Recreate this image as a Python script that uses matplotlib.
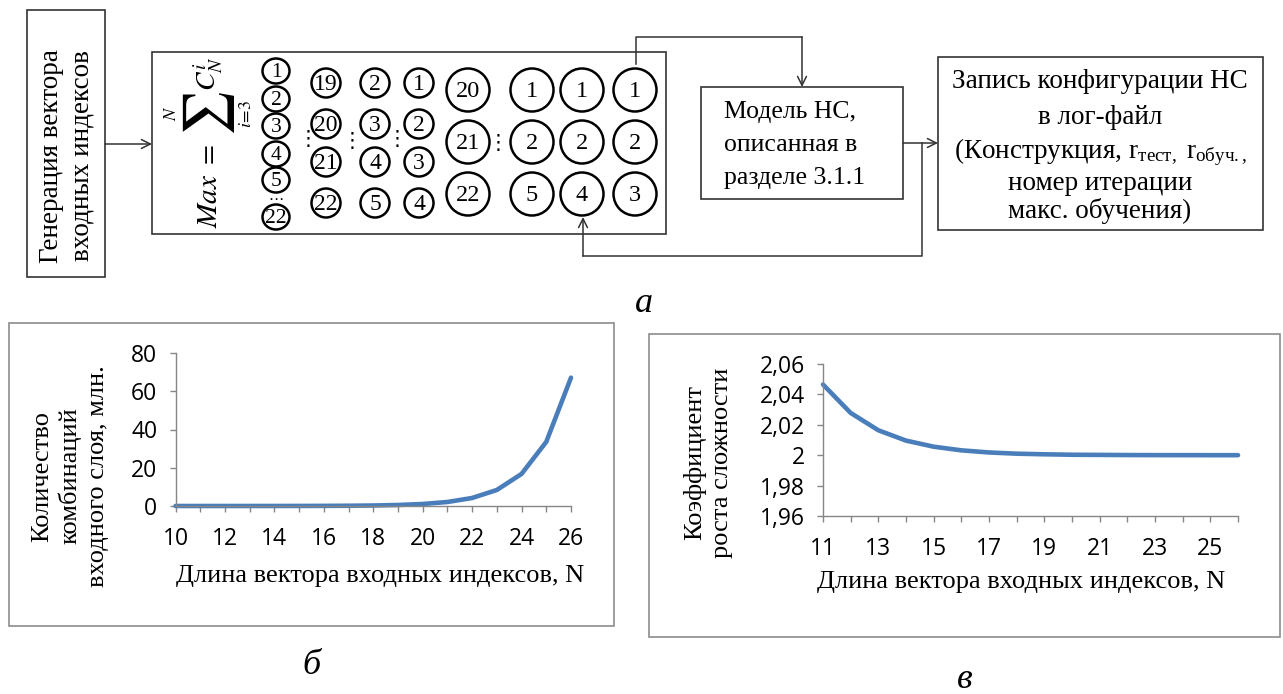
import matplotlib
matplotlib.use("Agg")
import matplotlib.pyplot as plt
from matplotlib.patches import Rectangle, Circle, Ellipse
from matplotlib.ticker import MultipleLocator

# ==========================================
# Data
# ==========================================
N_LEFT = list(range(10, 27))
COMBOS_MLN = [0.00097, 0.00198, 0.00402, 0.0081, 0.0163, 0.0326, 0.0654, 0.131,
              0.262, 0.524, 1.048, 2.097, 4.194, 8.388, 16.78, 33.55, 67.11]
LEFT_XTICKS = [10, 12, 14, 16, 18, 20, 22, 24, 26]
LEFT_YTICKS = [0, 20, 40, 60, 80]

N_RIGHT = list(range(11, 27))
GROWTH = [2.0465, 2.0278, 2.0164, 2.0096, 2.0056, 2.0032, 2.0018, 2.0010,
          2.0006, 2.0003, 2.0002, 2.0001, 2.00005, 2.00003, 2.00001, 2.00001]
RIGHT_XTICKS = [11, 13, 15, 17, 19, 21, 23, 25]
RIGHT_YTICKS = [1.96, 1.98, 2.00, 2.02, 2.04, 2.06]
RIGHT_YLABELS = ["1,96", "1,98", "2", "2,02", "2,04", "2,06"]

# circle labels of the index table
SMALL_COL = ["1", "2", "3", "4", "5", "22"]
MID_COLS = [["19", "20", "21", "22"], ["2", "3", "4", "5"], ["1", "2", "3", "4"]]
BIG_COLS = [["20", "21", "22"], ["1", "2", "5"], ["1", "2", "4"], ["1", "2", "3"]]

W, H = 1283, 694
SERIF = "Liberation Serif"
SANS = "Open Sans"
LINE_BLUE = "#4a7ebb"
AX_GRAY = "#868686"

plt.rcParams["mathtext.rm"] = SERIF
plt.rcParams["mathtext.it"] = SERIF + ":italic"

fig = plt.figure(figsize=(W / 100, H / 100), dpi=100)
bg = fig.add_axes([0, 0, 1, 1])
bg.set_xlim(0, W)
bg.set_ylim(H, 0)
bg.axis("off")


def box(x0, y0, x1, y1, ec="#333333", lw=1.2):
    bg.add_patch(Rectangle((x0, y0), x1 - x0, y1 - y0, fill=False, ec=ec, lw=lw))


def arrow(pts):
    xs = [p[0] for p in pts]
    ys = [p[1] for p in pts]
    bg.plot(xs[:-1], ys[:-1], color="#333333", lw=1.1)
    bg.annotate("", xy=pts[-1], xytext=pts[-2],
                arrowprops=dict(arrowstyle="->", color="#333333", lw=1.1,
                                shrinkA=0, shrinkB=0, mutation_scale=16))


def rtext(x, y, s, size, **kw):
    # rotated math text piece of the formula
    bg.text(x, y, s, rotation=90, ha="center", va="center", fontsize=size,
            math_fontfamily="stix", **kw)


# ---- top diagram ----
box(27, 10, 105, 277)
bg.text(67, 156, "Генерация вектора\nвходных индексов", rotation=90, ha="center",
        va="center", family=SERIF, fontsize=19.5, linespacing=1.3)
arrow([(105, 144), (152, 144)])

box(152, 52, 666, 234)
# Max = sum_{i=3}^{N} C_N^i, laid out rotated
rtext(209, 186, r"$Max\ =$", 21)
rtext(209, 114, r"$\sum$", 36)
rtext(171, 113, r"$N$", 13)
rtext(246, 114, r"$i\!=\!3$", 13)
rtext(209, 74, r"$C_N^i$", 20)

small_y = [71, 99, 126, 154, 180, 217]
for lab, y in zip(SMALL_COL, small_y):
    bg.add_patch(Ellipse((276, y), 27, 25, fill=False, ec="black", lw=1.8))
    bg.text(276, y + 1, lab, ha="center", va="center", family=SERIF, fontsize=15.5)
bg.text(276, 199, "⋯", ha="center", va="center", fontsize=11, family="DejaVu Sans")

mid_x = [326, 375, 419]
mid_y = [83, 124, 162, 203]
for x, col in zip(mid_x, MID_COLS):
    for lab, y in zip(col, mid_y):
        bg.add_patch(Circle((x, y), 14.5, fill=False, ec="black", lw=1.8))
        bg.text(x, y + 1, lab, ha="center", va="center", family=SERIF, fontsize=17)

big_x = [468, 532, 582, 635]
big_y = [90, 142, 194]
for x, col in zip(big_x, BIG_COLS):
    for lab, y in zip(col, big_y):
        bg.add_patch(Circle((x, y), 21.5, fill=False, ec="black", lw=1.8))
        bg.text(x, y + 1, lab, ha="center", va="center", family=SERIF, fontsize=17.5)

for x, y in [(308, 139), (352, 141), (397, 139), (498, 143)]:
    bg.text(x, y, "⋮", ha="center", va="center", fontsize=15, family="DejaVu Sans")

box(701, 87, 903, 199)
for txt, y in [("Модель НС,", 112), ("описанная в", 145), ("разделе 3.1.1", 178)]:
    bg.text(724, y, txt, ha="left", va="center", family=SERIF, fontsize=18.5)

box(938, 57, 1263, 230)
right_lines = [("Запись конфигурации НС", 81), ("в лог-файл", 117),
               (r"(Конструкция, r$_{\mathrm{тест,}}$ r$_{\mathrm{обуч.,}}$", 152),
               ("номер итерации", 183), ("макс. обучения)", 211)]
for txt, y in right_lines:
    bg.text(1100, y, txt, ha="center", va="center", family=SERIF, fontsize=19.5,
            math_fontfamily="custom")

arrow([(636, 64), (636, 37), (802, 37), (802, 87)])
arrow([(903, 143), (938, 143)])
arrow([(922, 143), (922, 256), (583, 256), (583, 217)])

bg.text(644, 303, "а", ha="center", va="center", family=SERIF, style="italic", fontsize=26)
bg.text(311, 666, "б", ha="center", va="center", family=SERIF, style="italic", fontsize=26)
bg.text(965, 680, "в", ha="center", va="center", family=SERIF, style="italic", fontsize=26)

# ---- chart frames ----
box(9, 323, 614, 626, ec="#8c8c8c", lw=1.2)
box(649, 334, 1280, 637, ec="#8c8c8c", lw=1.2)


def style_axes(ax):
    for s in ["top", "right"]:
        ax.spines[s].set_visible(False)
    for s in ["left", "bottom"]:
        ax.spines[s].set_color(AX_GRAY)
        ax.spines[s].set_linewidth(1.0)
    ax.tick_params(which="both", direction="out", length=4, width=1.0, color=AX_GRAY,
                   labelsize=16.5)
    ax.tick_params(axis="x", pad=11)
    ax.tick_params(axis="y", pad=9)
    ax.xaxis.set_minor_locator(MultipleLocator(1))
    for lab in ax.get_xticklabels() + ax.get_yticklabels():
        lab.set_family(SANS)
    ax.patch.set_alpha(0)


def px_axes(x0, y0, x1, y1):
    return fig.add_axes([x0 / W, (H - y1) / H, (x1 - x0) / W, (y1 - y0) / H])


# ---- left chart ----
axl = px_axes(175.5, 353, 571, 506)
axl.plot(N_LEFT, COMBOS_MLN, color=LINE_BLUE, lw=3.3, solid_capstyle="round", clip_on=False)
axl.set_xlim(10, 26)
axl.set_ylim(0, 80)
axl.set_xticks(LEFT_XTICKS)
axl.set_yticks(LEFT_YTICKS)
style_axes(axl)
bg.text(380, 576, "Длина вектора входных индексов, N", ha="center", va="center",
        family=SERIF, fontsize=19)
bg.text(70, 476, "Количество\nкомбинаций\nвходного слоя, млн.", rotation=90, ha="center",
        va="center", family=SERIF, fontsize=19, linespacing=1.3)

# ---- right chart ----
axr = px_axes(823, 364, 1238, 516)
axr.plot(N_RIGHT, GROWTH, color=LINE_BLUE, lw=3.3, solid_capstyle="round", clip_on=False)
axr.set_xlim(11, 26)
axr.set_ylim(1.96, 2.06)
axr.set_xticks(RIGHT_XTICKS)
axr.set_yticks(RIGHT_YTICKS)
axr.set_yticklabels(RIGHT_YLABELS)
style_axes(axr)
bg.text(1021, 582, "Длина вектора входных индексов, N", ha="center", va="center",
        family=SERIF, fontsize=19)
bg.text(708, 463, "Коэффициент\nроста сложности", rotation=90, ha="center",
        va="center", family=SERIF, fontsize=19, linespacing=1.25)

fig.savefig("out.png", dpi=100)
